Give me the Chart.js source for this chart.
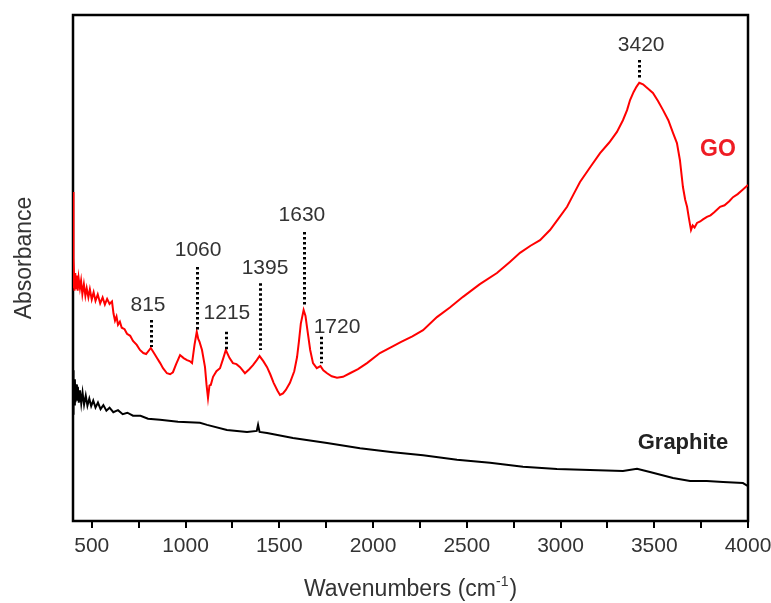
<!DOCTYPE html>
<html>
<head>
<meta charset="utf-8">
<title>FTIR spectra of GO and graphite</title>
<script src="https://cdn.jsdelivr.net/npm/chart.js@4.4.1/dist/chart.umd.min.js"></script>
<style>
  html, body { margin: 0; padding: 0; background: #ffffff; }
  #wrap { width: 771px; height: 603px; }
</style>
</head>
<body>
<div id="wrap"><canvas id="ftir" width="771" height="603"></canvas></div>
<script>
// ---- Spectra (absorbance in arbitrary units, offset for display) ----
const goWavenumbers = [
  400, 401, 402, 403, 405, 408, 412, 416, 420, 425, 430, 437, 443, 450, 458, 466, 473, 482, 490, 500,
  510, 520, 532, 545, 558, 570, 582, 595, 608, 616, 624, 632, 640, 650, 660, 675, 688, 705, 720, 740,
  757, 775, 790, 815, 835, 848, 865, 880, 901, 918, 933, 950, 971, 990, 1008, 1022, 1035, 1048, 1060, 1068,
  1075, 1088, 1104, 1112, 1120, 1128, 1135, 1147, 1165, 1184, 1200, 1215, 1235, 1253, 1272, 1291, 1317, 1340, 1360, 1380,
  1395, 1415, 1435, 1452, 1470, 1490, 1504, 1520, 1535, 1557, 1580, 1595, 1605, 1615, 1630, 1640, 1648, 1665, 1680, 1700,
  1720, 1735, 1755, 1780, 1808, 1840, 1877, 1920, 1968, 2037, 2100, 2150, 2210, 2267, 2341, 2410, 2480, 2570, 2661, 2730,
  2784, 2840, 2891, 2944, 2990, 3035, 3070, 3104, 3160, 3211, 3260, 3301, 3333, 3355, 3371, 3390, 3405, 3420, 3440, 3455,
  3475, 3493, 3520, 3547, 3575, 3600, 3621, 3637, 3653, 3665, 3675, 3685, 3696, 3705, 3715, 3728, 3745, 3760, 3781, 3800,
  3820, 3851, 3875, 3900, 3920, 3945, 3970, 4000
];
const goAbsorbance = [
  65.0, 46.0, 58.0, 47.0, 52.0, 45.5, 49.0, 46.0, 48.5, 45.5, 48.0, 46.0, 47.5, 44.8, 46.8, 44.5, 46.0, 44.2, 45.8, 43.8,
  45.2, 43.5, 44.8, 43.0, 44.2, 42.8, 43.9, 42.9, 43.4, 41.0, 39.6, 40.4, 38.8, 39.4, 38.2, 37.9, 37.0, 36.6, 35.6, 34.8,
  33.8, 33.2, 33.0, 34.2, 33.0, 32.2, 31.2, 30.2, 29.2, 29.0, 29.4, 31.0, 32.8, 32.2, 31.8, 31.6, 31.2, 34.8, 37.4, 36.0,
  35.4, 33.8, 30.4, 27.0, 24.3, 26.8, 26.9, 28.5, 29.6, 30.2, 32.0, 33.8, 32.2, 31.2, 31.0, 30.4, 29.2, 30.0, 30.8, 31.8,
  32.6, 31.6, 30.4, 29.0, 27.3, 25.8, 24.9, 25.2, 25.9, 27.3, 29.6, 32.4, 35.5, 39.0, 41.7, 40.5, 38.3, 33.8, 31.2, 30.2,
  30.6, 29.8, 29.2, 28.6, 28.3, 28.5, 29.2, 30.0, 31.2, 33.2, 34.4, 35.4, 36.5, 37.7, 40.3, 42.2, 44.3, 46.8, 49.0, 51.2,
  53.0, 54.4, 55.5, 57.5, 59.8, 62.1, 64.6, 67.0, 70.0, 72.7, 74.8, 76.9, 79.2, 81.2, 83.2, 84.8, 85.8, 86.6, 86.3, 85.8,
  85.2, 84.6, 83.0, 81.2, 79.2, 76.7, 74.7, 71.3, 66.0, 63.5, 62.1, 59.8, 57.5, 58.4, 58.0, 58.9, 59.2, 59.6, 60.1, 60.4,
  61.0, 62.1, 62.4, 63.2, 64.0, 64.6, 65.4, 66.4
];

const graphiteWavenumbers = [
  400, 401, 402, 403, 405, 407, 410, 413, 417, 421, 426, 431, 437, 444, 451, 459, 468, 477, 487, 497,
  508, 520, 533, 547, 562, 578, 595, 615, 640, 665, 690, 720, 760, 800, 864, 960, 1077, 1115, 1221, 1328,
  1380, 1387, 1395, 1435, 1573, 1755, 1931, 2107, 2267, 2448, 2624, 2800, 2981, 3157, 3333, 3408, 3477, 3600,
  3691, 3780, 3867, 3973, 4000
];
const graphiteAbsorbance = [
  29.8, 21.0, 28.5, 22.5, 27.5, 23.0, 28.0, 23.5, 27.0, 23.8, 26.5, 23.4, 25.8, 23.2, 25.4, 23.0, 24.8, 22.8, 24.2, 22.7,
  23.8, 22.4, 23.4, 22.1, 22.9, 21.8, 22.4, 21.5, 21.9, 21.1, 21.4, 20.8, 20.8, 20.2, 20.0, 19.6, 19.4, 19.0, 18.0, 17.6,
  17.8, 19.0, 17.6, 17.4, 16.4, 15.4, 14.4, 13.6, 13.0, 12.1, 11.5, 10.7, 10.3, 10.1, 9.9, 10.3, 9.7, 8.5,
  7.9, 7.9, 7.7, 7.5, 6.9
];

// ---- Band assignments marked on the GO spectrum ----
const peakWavenumbers = [815, 1060, 1215, 1395, 1630, 1720, 3420];
const peakLabels = ["815", "1060", "1215", "1395", "1630", "1720", "3420"];
const peakLineTop = [39.7, 50.2, 37.4, 47.0, 57.1, 36.4, 91.1];
const peakLineBottom = [34.4, 37.4, 33.8, 33.8, 42.3, 31.2, 87.2];
const peakLabelX = [800, 1067, 1221, 1424, 1621, 1808, 3430];
const peakLabelY = [42.7, 53.6, 41.1, 50.0, 60.5, 38.3, 94.1];

// ---- Axis ----
const xMin = 400, xMax = 4000;
const xTickValues = [500, 750, 1000, 1250, 1500, 1750, 2000, 2250, 2500, 2750, 3000, 3250, 3500, 3750, 4000];
const xTickLabels = ["500", "", "1000", "", "1500", "", "2000", "", "2500", "", "3000", "", "3500", "", "4000"];

const FONT = "'Liberation Sans', Arial, Helvetica, sans-serif";

function toPoints(xs, ys) {
  return xs.map((x, i) => ({ x: x, y: ys[i] }));
}

// Closed black frame round the plotting area
const framePlugin = {
  id: 'frame',
  beforeDatasetsDraw(chart) {
    const { ctx, chartArea: a } = chart;
    ctx.save();
    ctx.strokeStyle = '#000';
    ctx.lineWidth = 2.5;
    ctx.strokeRect(a.left, a.top, a.right - a.left, a.bottom - a.top);
    ctx.restore();
  }
};

// Peak markers, series names and axis titles
const annotationPlugin = {
  id: 'annotations',
  afterDraw(chart) {
    const { ctx, chartArea: a } = chart;
    const xs = chart.scales.x, ys = chart.scales.y;
    ctx.save();

    // dotted markers and wavenumber labels
    ctx.strokeStyle = '#000';
    ctx.lineWidth = 3;
    ctx.setLineDash([2.5, 2.5]);
    peakWavenumbers.forEach((w, i) => {
      const px = Math.round(xs.getPixelForValue(w)) + 0.5;
      ctx.beginPath();
      ctx.moveTo(px, ys.getPixelForValue(peakLineTop[i]));
      ctx.lineTo(px, ys.getPixelForValue(peakLineBottom[i]));
      ctx.stroke();
    });
    ctx.setLineDash([]);
    ctx.fillStyle = '#333';
    ctx.font = '21px ' + FONT;
    ctx.textAlign = 'center';
    ctx.textBaseline = 'middle';
    peakLabels.forEach((t, i) => {
      ctx.fillText(t, xs.getPixelForValue(peakLabelX[i]), ys.getPixelForValue(peakLabelY[i]));
    });

    // series names
    ctx.font = 'bold 23px ' + FONT;
    ctx.fillStyle = '#ee1c24';
    ctx.fillText('GO', xs.getPixelForValue(3840), ys.getPixelForValue(73.3));
    ctx.font = 'bold 22px ' + FONT;
    ctx.fillStyle = '#222';
    ctx.fillText('Graphite', xs.getPixelForValue(3653), ys.getPixelForValue(15.4));

    // x axis title with superscript
    ctx.fillStyle = '#333';
    ctx.textBaseline = 'alphabetic';
    ctx.textAlign = 'left';
    const main = 'Wavenumbers (cm';
    const sup = '-1';
    const close = ')';
    ctx.font = '23px ' + FONT;
    const wMain = ctx.measureText(main).width;
    const wClose = ctx.measureText(close).width;
    ctx.font = '14px ' + FONT;
    const wSup = ctx.measureText(sup).width;
    const total = wMain + wSup + wClose + 1;
    let tx = (a.left + a.right) / 2 - total / 2;
    const base = 596;
    ctx.font = '23px ' + FONT;
    ctx.fillText(main, tx, base);
    tx += wMain;
    ctx.font = '14px ' + FONT;
    ctx.fillText(sup, tx, base - 10);
    tx += wSup + 1;
    ctx.font = '23px ' + FONT;
    ctx.fillText(close, tx, base);

    // y axis title
    ctx.translate(25, 258);
    ctx.rotate(-Math.PI / 2);
    ctx.textAlign = 'center';
    ctx.textBaseline = 'middle';
    ctx.fillText('Absorbance', 0, 0);

    ctx.restore();
  }
};

new Chart(document.getElementById('ftir'), {
  type: 'line',
  data: {
    datasets: [
      {
        label: 'GO',
        data: toPoints(goWavenumbers, goAbsorbance),
        borderColor: '#ff0000',
        borderWidth: 2,
        pointRadius: 0,
        tension: 0
      },
      {
        label: 'Graphite',
        data: toPoints(graphiteWavenumbers, graphiteAbsorbance),
        borderColor: '#000000',
        borderWidth: 2,
        pointRadius: 0,
        tension: 0
      }
    ]
  },
  options: {
    responsive: false,
    animation: false,
    devicePixelRatio: 1,
    layout: { padding: { top: 15, right: 23, left: 0, bottom: 0 } },
    plugins: {
      legend: { display: false },
      tooltip: { enabled: false }
    },
    scales: {
      x: {
        type: 'linear',
        min: xMin,
        max: xMax,
        afterBuildTicks(scale) {
          scale.ticks = xTickValues.map(v => ({ value: v }));
        },
        afterFit(scale) {
          scale.height = 82;
          // the last label may run into the page margin
          scale.paddingLeft = 0;
          scale.paddingRight = 0;
        },
        border: { display: false },
        grid: {
          display: true,
          drawOnChartArea: false,
          drawTicks: true,
          tickLength: 7,
          color: '#000',
          lineWidth: 2
        },
        ticks: {
          autoSkip: false,
          maxRotation: 0,
          padding: 6,
          color: '#333',
          font: { family: FONT, size: 21 },
          callback(value) {
            const i = xTickValues.indexOf(value);
            return i >= 0 ? xTickLabels[i] : '';
          }
        }
      },
      y: {
        type: 'linear',
        min: 0,
        max: 100,
        afterFit(scale) { scale.width = 73; },
        border: { display: false },
        grid: { display: false },
        ticks: { display: false }
      }
    }
  },
  plugins: [framePlugin, annotationPlugin]
});
</script>
</body>
</html>
